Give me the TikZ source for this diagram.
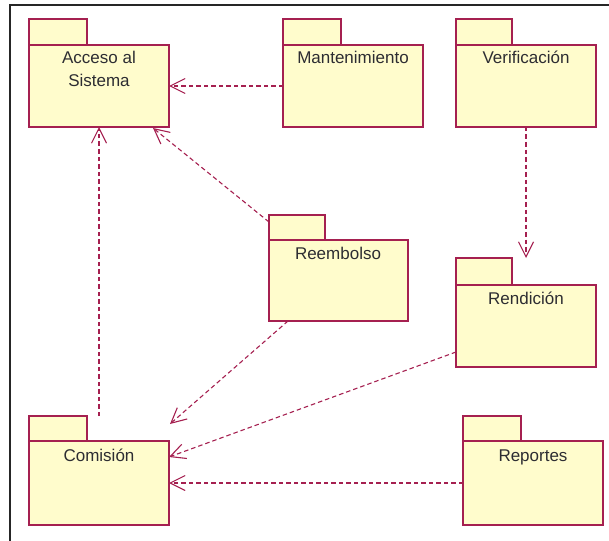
\documentclass[tikz,border=0pt]{standalone}
\usepackage{fontspec}
\setmainfont{Liberation Sans}
\usetikzlibrary{arrows.meta,calc}
\definecolor{pkline}{RGB}{165,32,80}
\definecolor{pkfill}{RGB}{255,252,204}
\definecolor{txt}{RGB}{45,45,50}
\begin{document}
\begin{tikzpicture}[x=1pt,y=-1pt,
  pkbody/.style={draw=pkline,fill=pkfill,line width=1.3pt,anchor=north west,inner sep=0pt,outer sep=0pt},
  pktab/.style={draw=pkline,fill=pkfill,line width=1.3pt,anchor=north west,inner sep=0pt,outer sep=0pt,minimum width=58pt,minimum height=26pt},
  lbl/.style={anchor=base,text=txt,font=\fontsize{17}{22.5}\selectfont,align=center,inner sep=0pt},
  dep/.style={draw=pkline,line width=1.1pt,dash pattern=on 4.5pt off 3pt,-{Straight Barb[length=15pt,width=15pt,line width=1.1pt]}}]
\useasboundingbox (0,0) rectangle (609,540);
\draw[line width=2pt,black!85] (10,545) -- (10,5) -- (615,5);
% Acceso
\node[pktab] (acctab) at (29,19) {};
\node[pkbody,minimum width=140pt,minimum height=82pt] (acc) at (29,45) {};
\node[lbl] (acclbl) at (99,86.5) {Acceso al\\Sistema};
% Mantenimiento
\node[pktab] (manttab) at (283,19) {};
\node[pkbody,minimum width=140pt,minimum height=82pt] (mant) at (283,45) {};
\node[lbl] (mantlbl) at (353,64) {Mantenimiento};
% Verificacion
\node[pktab,minimum width=56pt] (vertab) at (456,19) {};
\node[pkbody,minimum width=140pt,minimum height=82pt] (ver) at (456,45) {};
\node[lbl] (verlbl) at (526,64) {Verificación};
% Reembolso
\node[pktab,minimum width=56pt,minimum height=25pt] (reetab) at (269,215) {};
\node[pkbody,minimum width=139pt,minimum height=81pt] (ree) at (269,240) {};
\node[lbl] (reelbl) at (338,259) {Reembolso};
% Rendicion
\node[pktab,minimum width=56pt,minimum height=27pt] (rentab) at (456,258) {};
\node[pkbody,minimum width=140pt,minimum height=82pt] (ren) at (456,285) {};
\node[lbl] (renlbl) at (526,304) {Rendición};
% Comision
\node[pktab,minimum height=25pt] (comtab) at (29,416) {};
\node[pkbody,minimum width=140pt,minimum height=84pt] (com) at (29,441) {};
\node[lbl] (comlbl) at (99,461) {Comisión};
% Reportes
\node[pktab,minimum height=25pt] (reptab) at (463,416) {};
\node[pkbody,minimum width=140pt,minimum height=84pt] (rep) at (463,441) {};
\node[lbl] (replbl) at (533,461) {Reportes};
% dependencies
\draw[dep] (mant.west) -- (acc.east);
\draw[dep] (ver.south) -- (ver.south |- rentab.north);
\draw[dep] (acc.south |- comtab.north) -- (acc.south);
\draw[dep] ($(reetab.north west)+(0,7)$) -- ($(acc.south east)+(-16,1)$);
\draw[dep] ($(ree.south west)+(19,0)$) -- ($(com.north east)+(1,-17)$);
\draw[dep] ($(ren.south west)+(0,-15)$) -- ($(com.north east)+(0,16)$);
\draw[dep] (rep.west) -- (com.east);
\end{tikzpicture}
\end{document}
